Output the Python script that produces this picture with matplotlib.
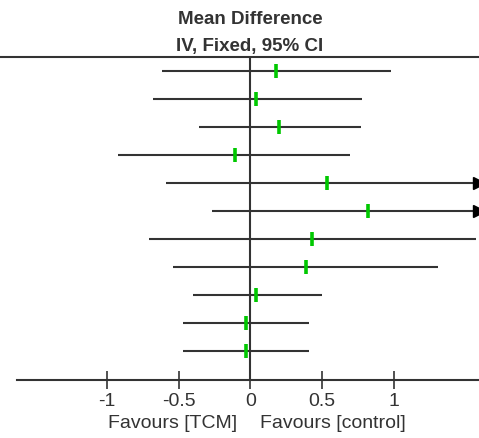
import matplotlib.pyplot as plt
import numpy as np

plt.rcParams['font.family'] = ['Liberation Sans', 'DejaVu Sans']

## Forest plot data (mean difference and 95% CI)
means = [0.18, 0.04, 0.20, -0.11, 0.53, 0.82, 0.43, 0.39, 0.04, -0.03, -0.03]
lower = [-0.62, -0.68, -0.36, -0.92, -0.59, -0.27, -0.71, -0.54, -0.40, -0.47, -0.47]
upper = [0.98, 0.78, 0.77, 0.69, 1.65, 1.92, 1.57, 1.31, 0.50, 0.41, 0.41]
ticks = [-1, -0.5, 0, 0.5, 1]
tick_labels = ['-1', '-0.5', '0', '0.5', '1']

xmin, xmax = -1.7456, 1.5923
axis_left = -1.63
dark = '#333333'
green = '#00c800'

fig = plt.figure(figsize=(4.79, 4.38), dpi=100)
ax = fig.add_axes([0, 58 / 438, 1, 323 / 438])

n = len(means)
y = np.arange(n)

for i in range(n):
    hi = min(upper[i], xmax)
    ax.plot([lower[i], hi], [y[i], y[i]], color=dark, lw=1.5, solid_capstyle='butt', zorder=2)
    if upper[i] > xmax:
        ax.plot([xmax], [y[i]], marker='>', color='black', markersize=8, clip_on=False, zorder=3)

ax.plot(means, y, linestyle='none', marker='|', color=green, markersize=10, markeredgewidth=2.6, zorder=4)
ax.axvline(0, color=dark, lw=1.5, zorder=1)

ax.set_xlim(xmin, xmax)
ax.set_ylim(n - 1 + 29 / 28, -0.5)

for s in ['left', 'right']:
    ax.spines[s].set_visible(False)
ax.spines['top'].set_color(dark)
ax.spines['top'].set_linewidth(1.5)
ax.spines['bottom'].set_color(dark)
ax.spines['bottom'].set_linewidth(1.5)
ax.spines['bottom'].set_bounds(axis_left, xmax)

ax.set_yticks([])
ax.set_xticks(ticks)
ax.set_xticklabels(tick_labels)
ax.tick_params(axis='x', direction='inout', length=13, width=1.2, color=dark,
               labelsize=14, labelcolor=dark, pad=3)

fig.text(250 / 479, 1 - 19 / 438, 'Mean Difference', ha='center', va='center',
         fontsize=13.5, fontweight='bold', color=dark)
fig.text(250 / 479, 1 - 46 / 438, 'IV, Fixed, 95% CI', ha='center', va='center',
         fontsize=13.5, fontweight='bold', color=dark)
fig.text(237 / 479, 1 - 423 / 438, 'Favours [TCM]', ha='right', va='center',
         fontsize=14, color=dark)
fig.text(260 / 479, 1 - 423 / 438, 'Favours [control]', ha='left', va='center',
         fontsize=14, color=dark)

fig.savefig('out.png', dpi=100)
